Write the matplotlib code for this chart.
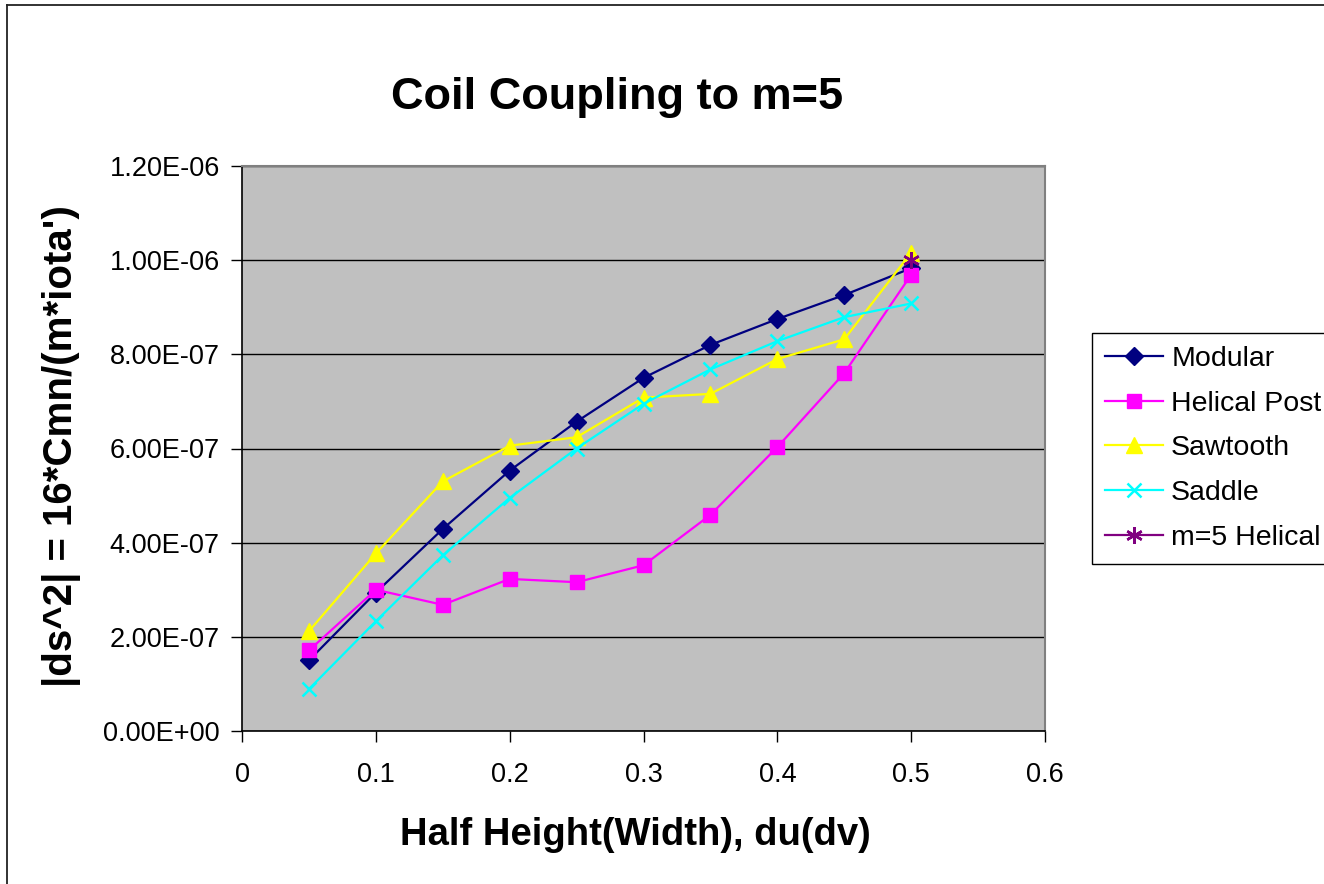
import matplotlib
matplotlib.use("Agg")
import matplotlib.pyplot as plt
from matplotlib.lines import Line2D

plt.rcParams['font.family'] = ['Liberation Sans', 'DejaVu Sans']

# Half height (width) of the coil, du(dv)
half_width = [0.05, 0.10, 0.15, 0.20, 0.25, 0.30, 0.35, 0.40, 0.45, 0.50]

# |ds^2| for each coil type
modular = [1.50e-7, 2.94e-7, 4.29e-7, 5.53e-7, 6.57e-7, 7.50e-7, 8.20e-7, 8.75e-7, 9.26e-7, 9.83e-7]
helical_post = [1.71e-7, 3.00e-7, 2.68e-7, 3.23e-7, 3.16e-7, 3.52e-7, 4.59e-7, 6.03e-7, 7.60e-7, 9.69e-7]
sawtooth = [2.12e-7, 3.77e-7, 5.30e-7, 6.06e-7, 6.24e-7, 7.08e-7, 7.16e-7, 7.90e-7, 8.32e-7, 1.016e-6]
saddle = [0.89e-7, 2.33e-7, 3.73e-7, 4.95e-7, 6.00e-7, 6.95e-7, 7.68e-7, 8.28e-7, 8.79e-7, 9.08e-7]
m5_helical_x = [0.50]
m5_helical = [1.00e-6]

x_ticks = [0, 0.1, 0.2, 0.3, 0.4, 0.5, 0.6]
x_tick_labels = ["0", "0.1", "0.2", "0.3", "0.4", "0.5", "0.6"]
y_ticks = [0.0, 2e-7, 4e-7, 6e-7, 8e-7, 1e-6, 1.2e-6]
y_tick_labels = ["0.00E+00", "2.00E-07", "4.00E-07", "6.00E-07", "8.00E-07", "1.00E-06", "1.20E-06"]

W, H = 1324, 884
fig = plt.figure(figsize=(W / 100, H / 100), dpi=100)
fig.patch.set_facecolor("white")

# Chart-area border (open on the right and bottom)
fig.add_artist(Line2D([6.5 / W, 6.5 / W], [0, 1 - 4.5 / H], transform=fig.transFigure,
                      color="#222222", lw=1.3))
fig.add_artist(Line2D([6.5 / W, 1], [1 - 4.5 / H, 1 - 4.5 / H], transform=fig.transFigure,
                      color="#222222", lw=1.3))

left, right, top, bottom = 242, 1045, 166, 731
ax = fig.add_axes([left / W, 1 - bottom / H, (right - left) / W, (bottom - top) / H])
ax.set_facecolor("#C0C0C0")

ax.plot(half_width, modular, color="#000080", marker="D", markersize=9, lw=1.6,
        label="Modular", zorder=3)
ax.plot(half_width, helical_post, color="#FF00FF", marker="s", markersize=9.5, lw=1.6,
        label="Helical Post", zorder=3)
ax.plot(half_width, sawtooth, color="#FFFF00", marker="^", markersize=11.5, lw=1.6,
        label="Sawtooth", zorder=3)
ax.plot(half_width, saddle, color="#00FFFF", marker="x", markersize=10.5, mew=1.8, lw=1.6,
        label="Saddle", zorder=3)
ax.plot(m5_helical_x, m5_helical, color="#800080", marker=(6, 2, 0), markersize=12, mew=1.8,
        lw=1.6, label="m=5 Helical", zorder=4)

ax.set_xlim(0, 0.6)
ax.set_ylim(0, 1.2e-6)
ax.set_xticks(x_ticks)
ax.set_xticklabels(x_tick_labels)
ax.set_yticks(y_ticks)
ax.set_yticklabels(y_tick_labels)
ax.tick_params(axis="both", direction="out", length=8, width=1, labelsize=19.5, color="black")
ax.tick_params(axis="y", pad=8)
ax.tick_params(axis="x", pad=14)

ax.grid(axis="y", color="black", lw=1)
ax.set_axisbelow(True)
for s in ("top", "right"):
    ax.spines[s].set_color("#808080")
    ax.spines[s].set_linewidth(1.5)
for s in ("left", "bottom"):
    ax.spines[s].set_color("black")
    ax.spines[s].set_linewidth(1.2)

fig.text(617 / W, 1 - 97 / H, "Coil Coupling to m=5", ha="center", va="center",
         fontsize=32.5, fontweight="bold")
fig.text(635 / W, 1 - 835 / H, "Half Height(Width), du(dv)", ha="center", va="center",
         fontsize=27.5, fontweight="bold")
fig.text(62 / W, 1 - 446 / H, "|ds^2| = 16*Cmn/(m*iota')", ha="center", va="center",
         rotation=90, fontsize=29, fontweight="bold")

leg = ax.legend(loc="upper left", bbox_to_anchor=(1092 / W, 1 - 333 / H),
                bbox_transform=fig.transFigure, fontsize=20.5, frameon=True, fancybox=False,
                edgecolor="black", framealpha=1, borderpad=0.45, labelspacing=0.66,
                handlelength=2.05, handletextpad=0.28, borderaxespad=0)
leg.get_frame().set_linewidth(1.0)

fig.savefig("out.png", dpi=100)
